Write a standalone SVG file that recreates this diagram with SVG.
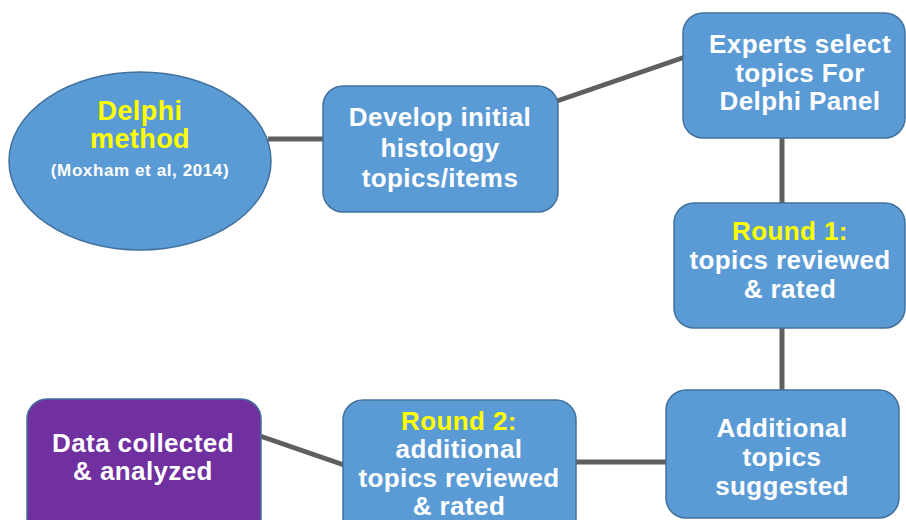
<svg xmlns="http://www.w3.org/2000/svg" width="906" height="520" viewBox="0 0 906 520">
<style>
.box{fill:#5B9BD5;stroke:#41719C;stroke-width:1.5}
.purple{fill:#7030A0;stroke:#41719C;stroke-width:1.5}
.conn{stroke:#5F5F5F;stroke-width:5;fill:none}
text{font-family:"Liberation Sans",Arial,sans-serif;font-weight:bold;font-size:26px;fill:#FFFFFF;text-anchor:middle;letter-spacing:0.4px}
.y{fill:#FFFF00}
.sm{font-size:17px}
</style>
<rect width="906" height="520" fill="#FFFFFF"/>
<g id="connectors">
<line class="conn" x1="268" y1="139" x2="324" y2="139"/>
<line class="conn" x1="557" y1="101" x2="685" y2="57"/>
<line class="conn" x1="782" y1="137" x2="782" y2="204"/>
<line class="conn" x1="782" y1="327" x2="782" y2="391"/>
<line class="conn" x1="667" y1="462" x2="575" y2="462"/>
<line class="conn" x1="260" y1="436" x2="344" y2="465"/>
</g>
<g id="delphi">
<ellipse class="box" cx="140" cy="161" rx="131" ry="89"/>
<text class="y" x="140" y="120" style="font-size:27px">Delphi</text>
<text class="y" x="140" y="148" style="font-size:27px">method</text>
<text class="sm" x="140" y="176" style="letter-spacing:0.6px">(Moxham et al, 2014)</text>
</g>
<g id="develop">
<rect class="box" x="323" y="86" width="235" height="126" rx="20"/>
<text x="440" y="126">Develop initial</text>
<text x="440" y="157">histology</text>
<text x="440" y="187">topics/items</text>
</g>
<g id="experts">
<rect class="box" x="683" y="13" width="222" height="125" rx="20"/>
<text x="800" y="53">Experts select</text>
<text x="800" y="82">topics For</text>
<text x="800" y="110">Delphi Panel</text>
</g>
<g id="round1">
<rect class="box" x="674" y="203" width="231" height="125" rx="20"/>
<text class="y" x="790" y="240">Round 1:</text>
<text x="790" y="269">topics reviewed</text>
<text x="790" y="298">&amp; rated</text>
</g>
<g id="additional">
<rect class="box" x="666" y="390" width="233" height="128" rx="20"/>
<text x="782" y="437">Additional</text>
<text x="782" y="466">topics</text>
<text x="782" y="495">suggested</text>
</g>
<g id="round2">
<rect class="box" x="343" y="400" width="233" height="140" rx="20"/>
<text class="y" x="459" y="430">Round 2:</text>
<text x="459" y="458">additional</text>
<text x="459" y="487">topics reviewed</text>
<text x="459" y="515">&amp; rated</text>
</g>
<g id="data">
<rect class="purple" x="27" y="399" width="234" height="140" rx="20"/>
<text x="143" y="452">Data collected</text>
<text x="143" y="480">&amp; analyzed</text>
</g>
</svg>
